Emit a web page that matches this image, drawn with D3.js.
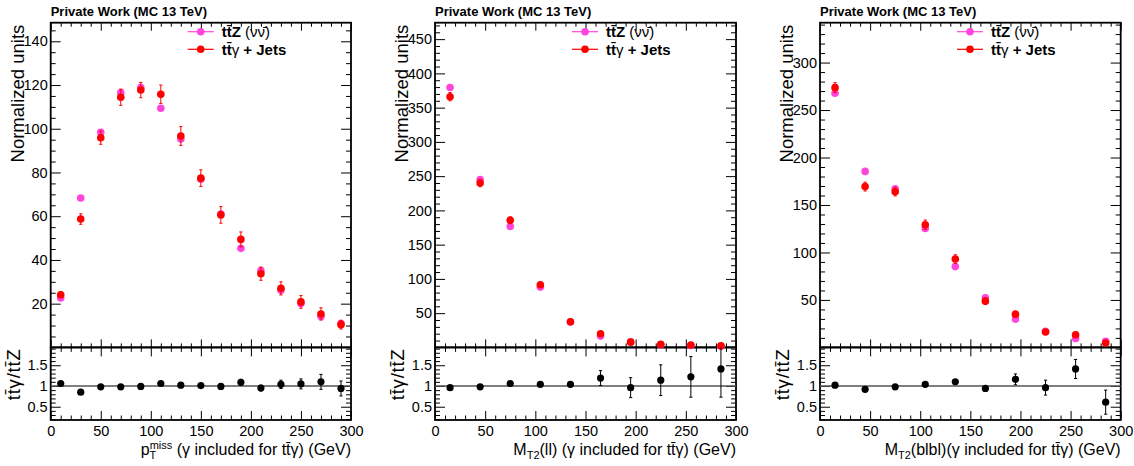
<!DOCTYPE html>
<html><head><meta charset="utf-8">
<script src="https://cdn.jsdelivr.net/npm/d3@7"></script>
<style>
body{margin:0;background:#fff}
svg{display:block}
text{font-family:"Liberation Sans",Arial,Helvetica,sans-serif;fill:#000}
</style>
</head><body>
<svg id="c" width="1134" height="466"></svg>
<script>
// ---- p_T^miss distribution (20 GeV bins) ----
const ptCentres   = [10,30,50,70,90,110,130,150,170,190,210,230,250,270,290];
const ptTTZ       = [22.6,68.3,98.4,116.5,118.8,109.4,95.3,76.9,61.0,45.3,35.1,26.1,20.1,14.1,10.9];
const ptTTG       = [24.1,58.7,95.9,114.4,117.7,115.8,96.7,77.4,60.6,49.4,33.7,27.0,20.8,15.3,10.4];
const ptTTGErr    = [1.3,2.4,3.0,3.7,3.5,4.2,4.3,3.8,3.8,3.4,3.0,3.0,2.9,2.8,2.0];
const ptRatio     = [1.06,0.85,0.98,0.98,0.99,1.06,1.02,1.01,0.99,1.09,0.95,1.04,1.05,1.10,0.94];
const ptRatioErr  = [0.05,0.04,0.04,0.04,0.04,0.04,0.05,0.05,0.06,0.07,0.07,0.10,0.12,0.18,0.18];

// ---- M_T2(ll) distribution (30 GeV bins) ----
const mllCentres  = [15,45,75,105,135,165,195,225,255,285];
const mllTTZ      = [379.5,245.0,176.4,88.0,37.0,16.5,8.0,3.9,2.8,1.7];
const mllTTG      = [366.0,240.0,185.6,91.4,37.5,20.0,7.7,4.4,3.4,2.4];
const mllTTGErr   = [6.0,5.5,5.0,3.0,1.5,1.2,1.0,0.8,0.8,0.8];
const mllRatio    = [0.96,0.98,1.06,1.04,1.04,1.19,0.96,1.14,1.22,1.41];
const mllRatioErr = [0.02,0.03,0.03,0.04,0.06,0.18,0.24,0.37,0.49,0.68];

// ---- M_T2(blbl) distribution (30 GeV bins) ----
const mblCentres  = [15,45,75,105,135,165,195,225,255,285];
const mblTTZ      = [267.7,185.4,167.0,125.3,85.1,52.2,29.8,16.9,9.5,6.4];
const mblTTG      = [273.6,169.4,164.0,129.2,93.1,48.7,35.0,16.2,13.3,4.6];
const mblTTGErr   = [5.2,4.7,4.5,5.0,4.5,3.5,3.0,2.2,2.2,1.5];
const mblRatio    = [1.02,0.92,0.98,1.04,1.10,0.94,1.16,0.96,1.41,0.61];
const mblRatioErr = [0.03,0.03,0.03,0.04,0.05,0.07,0.13,0.18,0.23,0.29];

// ---- axis ranges and tick values ----
const xRange       = [0, 300];
const xMajorTicks  = [0,50,100,150,200,250,300];
const mainYMax     = [148.5, 474, 342];
const mainYMajor   = [[20,40,60,80,100,120,140],[50,100,150,200,250,300,350,400,450],[50,100,150,200,250,300]];
const mainYMinorStep = [5, 10, 10];
const ratioRange   = [0.18, 1.93];
const ratioMajor   = [0.5, 1, 1.5];

const titleText  = "Private Work (MC 13 TeV)";
const yTitleText = "Normalized units";

const colTTZ = "#ff45dc";
const colTTG = "#ff0000";

const svg = d3.select("#c");
svg.append("rect").attr("width",1134).attr("height",466).attr("fill","#fff");

const mainTop = 22.7, mainBottom = 347.4, ratioBottom = 420;
const panels = [
  {left:50.7, right:351, centres:ptCentres, ttz:ptTTZ, ttg:ptTTG, err:ptTTGErr, ratio:ptRatio, rerr:ptRatioErr, xt:"pt"},
  {left:435, right:736, centres:mllCentres, ttz:mllTTZ, ttg:mllTTG, err:mllTTGErr, ratio:mllRatio, rerr:mllRatioErr, xt:"ll"},
  {left:820, right:1120.7, centres:mblCentres, ttz:mblTTZ, ttg:mblTTG, err:mblTTGErr, ratio:mblRatio, rerr:mblRatioErr, xt:"blbl"}
];

function range(a, b, step){ const out=[]; for(let v=a; v<=b+1e-9; v+=step) out.push(+v.toFixed(6)); return out; }

function tickAxis(g, gen, values, size, fmt, pad){
  const ax = gen.tickValues(values).tickSize(-size).tickSizeOuter(0).tickPadding(pad||3);
  ax.tickFormat(fmt ? fmt : () => "");
  g.call(ax);
  g.select(".domain").remove();
  g.selectAll(".tick line").attr("stroke","#000").attr("stroke-width",1);
  g.selectAll(".tick text").attr("fill","#000").style("font-size","14.5px")
    .style("font-family","'Liberation Sans',Arial,sans-serif");
}

// text with an overbar on the antiparticle symbol
function tbar(sel, base, weight){
  sel.append("tspan").attr("font-weight",weight).text(base + "\u0304");
}

panels.forEach((p, i) => {
  const g = svg.append("g");
  const x = d3.scaleLinear().domain(xRange).range([p.left, p.right]);
  const y = d3.scaleLinear().domain([0, mainYMax[i]]).range([mainBottom, mainTop]);
  const yr = d3.scaleLinear().domain(ratioRange).range([ratioBottom, mainBottom]);

  const xMinor = range(0, 300, 10).filter(v => v % 50 !== 0);
  const yMinor = range(mainYMinorStep[i], mainYMax[i], mainYMinorStep[i]).filter(v => !mainYMajor[i].includes(v));
  const rMinor = range(0.2, 1.9, 0.1).filter(v => !ratioMajor.some(m => Math.abs(m - v) < 1e-6));

  // ---- main pad ticks ----
  tickAxis(g.append("g").attr("transform",`translate(0,${mainBottom})`), d3.axisBottom(x), xMajorTicks, 8);
  tickAxis(g.append("g").attr("transform",`translate(0,${mainBottom})`), d3.axisBottom(x), xMinor, 4);
  tickAxis(g.append("g").attr("transform",`translate(0,${mainTop})`), d3.axisTop(x), xMajorTicks, 8);
  tickAxis(g.append("g").attr("transform",`translate(0,${mainTop})`), d3.axisTop(x), xMinor, 4);
  tickAxis(g.append("g").attr("transform",`translate(${p.left},0)`), d3.axisLeft(y), mainYMajor[i], 10, d => d, 3);
  tickAxis(g.append("g").attr("transform",`translate(${p.left},0)`), d3.axisLeft(y), yMinor, 5);
  tickAxis(g.append("g").attr("transform",`translate(${p.right},0)`), d3.axisRight(y), mainYMajor[i], 10);
  tickAxis(g.append("g").attr("transform",`translate(${p.right},0)`), d3.axisRight(y), yMinor, 5);

  // ---- ratio pad ticks ----
  tickAxis(g.append("g").attr("transform",`translate(0,${ratioBottom})`), d3.axisBottom(x), xMajorTicks, 9, d => d, 6);
  tickAxis(g.append("g").attr("transform",`translate(0,${ratioBottom})`), d3.axisBottom(x), xMinor, 4.5);
  tickAxis(g.append("g").attr("transform",`translate(0,${mainBottom})`), d3.axisTop(x), xMajorTicks, 9);
  tickAxis(g.append("g").attr("transform",`translate(0,${mainBottom})`), d3.axisTop(x), xMinor, 4.5);
  tickAxis(g.append("g").attr("transform",`translate(${p.left},0)`), d3.axisLeft(yr), ratioMajor, 10, d => d, 3);
  tickAxis(g.append("g").attr("transform",`translate(${p.left},0)`), d3.axisLeft(yr), rMinor, 5);
  tickAxis(g.append("g").attr("transform",`translate(${p.right},0)`), d3.axisRight(yr), ratioMajor, 10);
  tickAxis(g.append("g").attr("transform",`translate(${p.right},0)`), d3.axisRight(yr), rMinor, 5);

  // ---- frames ----
  g.append("rect").attr("x",p.left).attr("y",mainTop).attr("width",p.right-p.left).attr("height",mainBottom-mainTop)
    .attr("fill","none").attr("stroke","#000").attr("stroke-width",1.8);
  g.append("rect").attr("x",p.left).attr("y",mainBottom).attr("width",p.right-p.left).attr("height",ratioBottom-mainBottom)
    .attr("fill","none").attr("stroke","#000").attr("stroke-width",1.8);

  // ---- main pad markers: ttZ first, ttgamma with error bars on top ----
  const cap = 1.6;
  g.append("g").selectAll("circle").data(p.centres).join("circle")
    .attr("cx", d => x(d)).attr("cy", (d,k) => y(p.ttz[k])).attr("r",3.8).attr("fill",colTTZ);
  const eg = g.append("g").attr("stroke",colTTG).attr("stroke-width",1);
  p.centres.forEach((c,k) => {
    const y1 = y(p.ttg[k]+p.err[k]), y0 = y(Math.max(0,p.ttg[k]-p.err[k]));
    eg.append("line").attr("x1",x(c)).attr("x2",x(c)).attr("y1",y1).attr("y2",y0);
    eg.append("line").attr("x1",x(c)-cap).attr("x2",x(c)+cap).attr("y1",y1).attr("y2",y1);
    eg.append("line").attr("x1",x(c)-cap).attr("x2",x(c)+cap).attr("y1",y0).attr("y2",y0);
  });
  g.append("g").selectAll("circle").data(p.centres).join("circle")
    .attr("cx", d => x(d)).attr("cy", (d,k) => y(p.ttg[k])).attr("r",3.8).attr("fill",colTTG);

  // ---- ratio pad ----
  const clipId = "rclip" + i;
  svg.append("clipPath").attr("id",clipId).append("rect")
    .attr("x",p.left).attr("y",mainBottom).attr("width",p.right-p.left).attr("height",ratioBottom-mainBottom);
  const rg = g.append("g").attr("clip-path",`url(#${clipId})`);
  rg.append("line").attr("x1",x(0)).attr("x2",x(300)).attr("y1",yr(1)).attr("y2",yr(1))
    .attr("stroke","#555").attr("stroke-width",1.5);
  const reg = rg.append("g").attr("stroke","#000").attr("stroke-width",1);
  p.centres.forEach((c,k) => {
    const y1 = yr(p.ratio[k]+p.rerr[k]), y0 = yr(p.ratio[k]-p.rerr[k]);
    reg.append("line").attr("x1",x(c)).attr("x2",x(c)).attr("y1",y1).attr("y2",y0);
    reg.append("line").attr("x1",x(c)-cap).attr("x2",x(c)+cap).attr("y1",y1).attr("y2",y1);
    reg.append("line").attr("x1",x(c)-cap).attr("x2",x(c)+cap).attr("y1",y0).attr("y2",y0);
  });
  rg.append("g").selectAll("circle").data(p.centres).join("circle")
    .attr("cx", d => x(d)).attr("cy", (d,k) => yr(p.ratio[k])).attr("r",3.6).attr("fill","#000");

  // ---- header ----
  g.append("text").attr("x",p.left).attr("y",16).attr("font-weight","bold").style("font-size","13px").text(titleText);

  // ---- legend ----
  const lx = p.left;
  [[31.7,colTTZ],[49.3,colTTG]].forEach(([ly,col]) => {
    g.append("line").attr("x1",lx+137).attr("x2",lx+163).attr("y1",ly).attr("y2",ly).attr("stroke",col).attr("stroke-width",1.2);
    g.append("circle").attr("cx",lx+150).attr("cy",ly).attr("r",3.8).attr("fill",col);
  });
  const t1 = g.append("text").attr("x",lx+171).attr("y",37).style("font-size","15px");
  t1.append("tspan").attr("font-weight","bold").text("t");
  tbar(t1, "t", "bold");
  t1.append("tspan").attr("font-weight","bold").text("Z ");
  t1.append("tspan").text("(ν");
  tbar(t1, "ν", "normal");
  t1.append("tspan").text(")");
  const t2 = g.append("text").attr("x",lx+171).attr("y",54.6).style("font-size","15px");
  t2.append("tspan").attr("font-weight","bold").text("t");
  tbar(t2, "t", "bold");
  t2.append("tspan").text("γ");
  t2.append("tspan").attr("font-weight","bold").text(" + Jets");

  // ---- axis titles ----
  g.append("text").attr("transform",`translate(${p.left-27},${mainTop+2}) rotate(-90)`)
    .attr("text-anchor","end").style("font-size","18.5px").text(yTitleText);
  const rt = g.append("text").attr("transform",`translate(${p.left-31},${mainBottom+1}) rotate(-90)`)
    .attr("text-anchor","end").style("font-size","18.5px").style("letter-spacing","0.8px");
  rt.append("tspan").text("t"); tbar(rt,"t","normal"); rt.append("tspan").text("γ/t"); tbar(rt,"t","normal"); rt.append("tspan").text("Z");

  const xt = g.append("text").attr("x",p.right).attr("y",455).attr("text-anchor","end").style("font-size","16px");
  if (p.xt === "pt") {
    xt.append("tspan").text("p");
    xt.append("tspan").attr("dy",4).style("font-size","11px").text("T");
    xt.append("tspan").attr("dx",-6.7).attr("dy",-10.5).style("font-size","11px").text("miss");
    xt.append("tspan").attr("dy",6.5).text(" (γ included for t");
  } else {
    xt.append("tspan").text("M");
    xt.append("tspan").attr("dy",4).style("font-size","11px").text("T2");
    xt.append("tspan").attr("dy",-4).text(p.xt === "ll" ? "(ll)  (γ included for t" : "(blbl)(γ included for t");
  }
  tbar(xt, "t", "normal");
  xt.append("tspan").text("γ) (GeV)");
});
</script>
</body></html>
